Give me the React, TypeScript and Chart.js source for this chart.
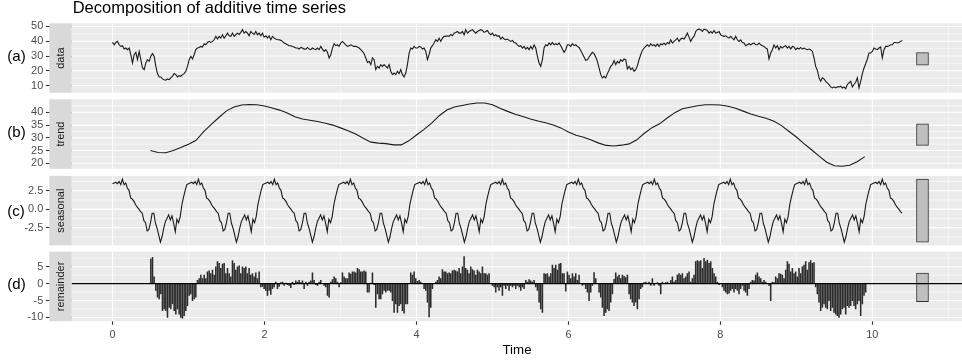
import React, { useEffect, useRef } from "react";
import { Chart, registerables } from "chart.js";

Chart.register(...registerables);

// ---------------- data ----------------
const samplesPerUnit = 45.6; // observations per time unit
const dataValues = [
  39.2, 37.6, 39.2, 39.9, 37.6, 36.5, 37.0, 34.7, 35.4, 34.3,
  35.4, 30.9, 25.3, 30.9, 32.5, 27.5, 33.1, 27.5, 21.9, 20.8,
  25.3, 27.5, 26.4, 29.8, 31.6, 29.8, 23.0, 18.1, 15.8, 15.8,
  14.5, 14.0, 13.6, 14.5, 14.0, 15.2, 16.3, 18.1, 17.4, 15.8,
  16.7, 16.3, 17.4, 18.1, 19.7, 23.0, 27.5, 29.8, 28.0, 30.9,
  34.3, 35.4, 35.8, 36.5, 36.1, 38.3, 37.6, 39.2, 39.9, 39.2,
  39.9, 41.0, 43.3, 41.5, 43.3, 42.1, 44.4, 42.1, 43.7, 45.5,
  43.7, 43.3, 45.5, 43.3, 44.4, 45.5, 44.6, 46.0, 47.8, 45.5,
  46.6, 45.5, 43.7, 46.6, 45.5, 44.6, 46.6, 44.4, 45.5, 43.7,
  45.5, 42.8, 43.7, 42.1, 43.7, 41.0, 43.3, 42.1, 41.5, 41.0,
  41.0, 40.6, 39.9, 38.8, 38.3, 37.6, 37.0, 37.0, 36.5, 36.1,
  35.4, 35.4, 34.7, 35.8, 35.4, 34.7, 34.7, 35.8, 34.7, 34.3,
  35.4, 34.7, 34.3, 35.4, 34.3, 36.5, 34.7, 33.1, 34.3, 32.5,
  28.7, 30.9, 35.4, 38.3, 37.0, 37.6, 36.5, 38.8, 39.9, 38.8,
  37.6, 36.5, 37.0, 37.6, 37.0, 36.5, 36.5, 36.1, 35.4, 34.3,
  33.1, 31.6, 28.7, 25.7, 26.4, 24.2, 28.7, 27.5, 20.8, 23.0,
  21.9, 24.2, 23.0, 24.2, 23.0, 21.9, 24.2, 19.7, 17.4, 18.5,
  17.4, 19.7, 18.1, 20.8, 17.4, 15.8, 18.5, 24.2, 32.0, 35.4,
  34.7, 36.5, 35.4, 35.4, 36.5, 36.1, 34.7, 35.4, 33.1, 27.5,
  30.9, 35.4, 37.0, 38.8, 41.0, 39.9, 42.1, 39.9, 42.1, 43.3,
  43.3, 43.7, 43.3, 44.6, 43.7, 45.5, 46.0, 46.6, 45.5, 45.5,
  46.6, 44.4, 47.8, 45.5, 46.6, 47.3, 47.8, 46.6, 45.5, 46.6,
  47.3,
  47.8, 47.3, 46.0, 46.6, 47.3, 45.5, 44.4, 45.5, 43.7, 44.4,
  43.3, 43.7, 41.5, 42.8, 41.5, 41.0, 41.5, 40.6, 39.9, 40.6,
  39.2, 38.8, 37.6, 36.5, 37.0, 35.4, 36.5, 34.7, 35.8, 34.3,
  36.5, 34.7, 37.6, 35.4, 29.8, 25.3, 23.0, 27.5, 35.4, 37.6,
  37.0, 38.8, 37.6, 39.2, 37.6, 38.3, 37.6, 38.8, 37.0, 34.7,
  32.5, 34.3, 37.6, 37.6, 36.5, 38.3, 37.0, 37.6, 36.5, 35.8,
  33.8, 31.6, 29.3, 27.1, 27.5, 29.3, 30.9, 32.5, 31.6, 29.3,
  26.4, 21.9, 17.4, 15.2, 16.3, 15.2, 18.1, 20.4, 23.0, 24.2,
  26.9, 24.2, 26.4, 25.3, 27.5, 26.4, 28.0, 27.5, 21.2, 23.0,
  20.8, 21.9, 19.7, 20.8, 23.4, 27.5, 30.9, 33.8, 35.4, 36.5,
  37.6, 36.5, 38.3, 37.0, 37.6, 36.5, 38.1, 36.5, 38.3, 37.6,
  38.8, 37.6, 39.2, 38.3, 41.0, 38.8, 39.9, 41.0, 42.1, 39.9,
  41.5, 42.1, 41.5, 43.3, 45.5, 42.8, 39.9, 42.1, 43.3, 46.6,
  47.8, 48.2, 47.8, 46.6, 48.2, 47.8, 47.3, 45.5, 46.6, 45.5,
  47.3, 45.5, 46.0, 46.6, 44.4, 43.7, 43.3, 43.7, 42.8, 42.1,
  43.3, 42.1, 41.0, 43.3, 41.0, 39.9, 41.0, 39.2, 38.8, 37.0,
  37.6, 38.3, 37.6, 38.3, 38.8, 37.6, 37.6, 38.8, 37.6, 37.0,
  36.5, 35.4, 34.7, 28.0, 32.0, 34.3, 37.6, 35.4, 37.0, 34.3,
  36.5, 35.4, 36.5, 37.0, 35.4, 36.5, 34.7, 36.5, 36.1, 34.3,
  35.4, 34.7, 35.8, 34.7, 35.4, 34.7, 34.3, 34.7, 34.3, 33.1,
  28.7, 23.0, 20.4, 15.2, 12.9, 15.2, 14.5, 12.9, 11.8, 10.7,
  9.1, 8.4, 9.1, 8.4, 9.1, 9.1, 9.6, 8.4, 9.1, 7.8,
  10.7, 11.8, 12.9, 9.1, 10.7, 12.2, 15.2, 8.4, 12.9, 18.1,
  21.9, 24.8, 28.0, 32.0, 32.0, 33.1, 35.4, 34.7, 34.3, 35.4,
  36.1, 28.7, 34.3, 36.5, 36.5, 37.0, 37.6, 37.6, 39.2, 39.2,
  38.8, 39.2, 39.9, 40.6,
];

const trendStart = 0.5;
const trendStep = 0.1;
const trendValues = [
  25.0, 24.2, 24.1, 25.0, 26.2, 27.5, 29.0, 32.4, 35.3, 38.0,
  40.6, 42.1, 42.9, 43.1, 43.0, 42.5, 41.7, 40.9, 39.8, 38.3,
  37.4, 36.9, 36.4, 35.7, 35.0, 33.9, 32.8, 31.5, 29.8, 28.3,
  27.9, 27.7, 27.2, 27.2, 28.8, 31.1, 33.3, 35.8, 38.7, 40.9,
  42.1, 42.7, 43.3, 43.7, 43.7, 43.0, 41.6, 40.4, 39.3, 38.4,
  37.4, 36.6, 35.9, 35.0, 33.9, 32.3, 31.0, 30.2, 29.1, 27.9,
  27.0, 26.8, 27.1, 27.6, 29.2, 31.8, 34.0, 35.5, 37.8, 39.9,
  41.4, 42.0, 42.6, 43.0, 43.0, 42.9, 42.4, 41.6, 40.5, 39.4,
  38.5, 37.7, 36.6, 34.9, 32.6, 30.3, 27.7, 25.3, 22.8, 20.4,
  19.0, 18.8, 19.2, 20.6, 22.6,
];

const seasonalPerPeriod = 46;
const seasonalLength = 479;
const seasonalFigure = [
  3.45, 3.55, 3.64, 3.45, 3.73, 3.32, 4.07, 3.32, 3.55, 2.86,
  2.55, 1.50, 1.36, 1.05, 0.60, 0.27, 0.00, -0.32, -0.55, -1.55,
  -1.82, -2.95, -2.73, -1.82, -0.55, -0.55, -1.90, -2.60, -3.50, -4.45,
  -3.73, -2.60, -1.68, -1.23, -0.77, -1.45, -0.90, -1.90, -3.05, -1.36,
  -1.82, -1.00, 0.60, 1.64, 2.55, 3.32,
];

const remainderStartIndex = 23;
const remainderValues = [
  7.3, 7.8, 2.0, -2.0, -4.0, -4.5, -3.0, -8.0, -7.5, -8.0,
  -10.0, -7.0, -7.5, -6.0, -8.0, -9.0, -7.5, -9.0, -10.0, -10.2,
  -9.5, -8.0, -6.5, -3.5, -3.0, -5.0, -4.5, -4.0, 1.0, 1.5,
  2.5, 1.5, 2.5, 1.5, 3.5, 3.8, 3.0, 4.0, 2.5, 5.0,
  6.5, 6.0, 4.5, 5.8, 6.0, 3.0, 4.5, 3.0, 2.0, 6.8,
  6.0, 4.0, 5.0, 5.3, 3.0, 5.0, 4.5, 5.0, 3.0, 4.5,
  2.5, 3.0, 2.0, 3.2, 1.5, 3.5, -1.0, -0.8, -1.5, -2.0,
  -3.5, -2.0, -3.2, -1.5, -1.0, 0.5, -1.5, -0.8, 0.3, 0.5,
  -0.5, 0.2, -0.3, -0.5, -1.2, 0.5, -0.3, 0.8, 0.5, 1.0,
  0.3, 0.8, -1.5, 0.5, -0.5, 0.5, 0.8, 3.2, 1.0, -0.3,
  -0.5, 0.5, 1.0, 0.0, -0.5, -1.0, -3.5, -4.0, 0.5, 1.2,
  2.0, 1.5, 0.5, -1.0, 0.3, 3.2, 2.0, 1.5, 1.5, 3.2,
  2.8, 3.5, 3.5, 3.2, 4.5, 4.2, 3.5, 3.5, 3.8, 3.5,
  -2.5, -2.5, 0.2, 3.2, -0.3, -7.0, -3.0, -4.5, -4.5, -3.0,
  -2.0, -2.5, -2.0, -2.0, -2.5, -5.0, -8.5, -6.0, -8.5, -6.5,
  -6.0, -8.0, -8.7, -6.0, -6.0, 0.0, 3.2, 2.5, 3.5, 1.5,
  0.7, 1.0, 0.5, 0.0, -1.5, -2.0, -5.5, -9.8, -7.0, -1.5,
  0.0, 0.5, 1.0, 2.0, 1.5, 4.2, 3.5, 3.5, 3.0, 3.2,
  3.0, 3.8, 4.0, 3.8, 3.5, 4.5, 3.0, 5.0, 8.0, 4.5,
  4.0, 3.0, 5.0, 4.2, 3.8, 2.5, 4.0, 3.5,
  3.0, 5.0, 3.0, 3.0, 2.5, 3.0, 0.0, -0.5, -1.0, -2.5,
  -1.0, -2.0, -1.0, -3.5, -0.5, -1.5, -0.5, -2.0, -0.5, -1.0,
  -0.5, -1.5, -0.5, -1.0, -2.0, -1.0, -1.5, 1.0, 0.5, 1.2,
  0.8, 0.5, 1.0, -1.0, -2.0, -5.5, -7.5, -8.5, 3.0, 2.8,
  3.0, 2.0, 3.0, 5.5, 4.5, 5.5, 4.0, 5.8, 6.0, 3.0,
  3.0, -2.2, 3.5, 2.5, 1.5, 3.0, 2.0, 3.0, 1.0, 2.5,
  0.0, -0.5, -0.2, -1.5, -2.5, -5.0, -2.5, -0.5, 3.3, 1.5,
  0.0, -2.5, -4.0, -7.0, -9.5, -8.5, -7.5, -8.0, -5.5, -3.0,
  1.3, 3.2, 2.0, 2.5, 1.5, 2.5, 2.2, 1.8, 2.5, -3.0,
  -4.5, -5.5, -6.5, -5.5, -7.5, -4.5, -1.5, -1.0, 0.3, 0.5,
  0.2, 0.5, -0.5, 1.5, -0.5, 0.0, 0.3, -0.5, -3.0, 0.5,
  0.0, 0.3, 0.5, 0.0, 1.0, 2.0, 0.5, 1.0, 2.5, 3.0,
  2.5, 3.0, 1.5, 2.0, 3.0, 3.5, 0.5, 1.5, 2.5, 6.5,
  6.8, 6.5, 6.8, 4.5, 7.5, 6.5, 7.0, 6.0, 6.5, 4.5,
  3.0, 2.0, 0.5, -0.3, 0.0, -1.0, -2.0, -2.5, -3.0, -2.8,
  -2.0, -1.5, -2.5, -1.5, -2.0, -3.0, -1.5, -0.5, -2.0, -2.5,
  -3.5, -1.5, 0.5, 1.0, 0.8, 2.5, 3.2, 2.0, 1.5, 0.5,
  1.0, 0.5, 0.0, -0.5, -5.0, 0.5, 0.3, 2.0, 1.5, 3.0,
  2.8, 2.5, 1.5, 4.0, 6.5, 5.8, 3.5, 4.5, 3.0, 3.5,
  2.0, 4.5, 3.0, 5.0, 5.5, 6.5, 4.0, 6.2, 6.8, 6.0,
  6.2, -1.0, -3.0, -5.5, -8.0, -7.0, -6.0, -7.0, -7.5, -5.0,
  -8.0, -7.0, -8.5, -9.0, -9.5, -10.0, -9.0, -7.5, -7.0, -9.0,
  -6.5, -7.0, -6.5, -5.0, -6.5, -7.5, -6.0, -5.0, -9.5, -6.0,
  -3.5, -2.5,
];

// axes / labels
const xMajorTicks = [0, 2, 4, 6, 8, 10];
const xMinorTicks = [1, 3, 5, 7, 9, 11];
const dataTicks = [10, 20, 30, 40, 50];
const dataMinor = [15, 25, 35, 45];
const trendTicks = [20, 25, 30, 35, 40];
const trendMinor = [22.5, 27.5, 32.5, 37.5, 42.5];
const seasonalTicks = [-2.5, 0, 2.5];
const seasonalMinor = [-3.75, -1.25, 1.25, 3.75];
const remainderTicks = [-10, -5, 0, 5];
const remainderMinor = [-7.5, -2.5, 2.5, 7.5];
const stripLabels = ["data", "trend", "seasonal", "remainder"];
const panelTags = ["(a)", "(b)", "(c)", "(d)"];
const chartTitle = "Decomposition of additive time series";
const xTitle = "Time";
const rangeBarX = 10.66;

// ---------------- layout ----------------
const PAGE_W = 962;
const PAGE_H = 362;
const FONT = '"Liberation Sans", Arial, Helvetica, sans-serif';
const PLOT_LEFT = 71.7;
const STRIP_LEFT = 49.3;
const TICK_OUTER = 45.9;
const PANEL_TOPS = [23.3, 99.3, 175.9, 251.7];
const PANEL_H = 69.5;
const TAG_Y = [57.7, 133.5, 212.5, 285.3];
const X_MIN = -0.537;
const X_MAX = 11.18;

const dataPoints = dataValues.map((v, i) => ({ x: i / samplesPerUnit, y: v }));
const trendPoints = trendValues.map((v, i) => ({ x: trendStart + i * trendStep, y: v }));
const seasonalPoints = Array.from({ length: seasonalLength }, (_, i) => ({
  x: i / seasonalPerPeriod,
  y: seasonalFigure[i % seasonalPerPeriod],
}));
const remainderPoints = remainderValues.map((v, i) => ({
  x: (remainderStartIndex + i) / samplesPerUnit,
  y: v,
}));

const seasonalHalf = (Math.max(...seasonalFigure) - Math.min(...seasonalFigure)) / 2;
const mid = (arr: number[]) => (Math.max(...arr) + Math.min(...arr)) / 2;

type PanelDef = {
  yMin: number;
  yMax: number;
  major: number[];
  minor: number[];
  fmt: (v: number) => string;
  points: { x: number; y: number }[];
  bars: boolean;
  center: number;
};

const PANELS: PanelDef[] = [
  { yMin: 5.1, yMax: 52.15, major: dataTicks, minor: dataMinor, fmt: (v) => String(v), points: dataPoints, bars: false, center: mid(dataValues) },
  { yMin: 17.8, yMax: 45.15, major: trendTicks, minor: trendMinor, fmt: (v) => String(v), points: trendPoints, bars: false, center: mid(trendValues) },
  { yMin: -4.9, yMax: 4.5, major: seasonalTicks, minor: seasonalMinor, fmt: (v) => v.toFixed(1), points: seasonalPoints, bars: false, center: mid(seasonalFigure) },
  { yMin: -11.1, yMax: 9.45, major: remainderTicks, minor: remainderMinor, fmt: (v) => String(v), points: remainderPoints, bars: true, center: mid(remainderValues) },
];

function makeConfig(p: PanelDef, i: number): any {
  const top = PANEL_TOPS[i];
  const bottom = top + PANEL_H;
  const last = i === PANELS.length - 1;
  const tickFont = { family: FONT, size: 10.9 };

  const panelPlugin = {
    id: "panelDeco" + i,
    beforeDatasetsDraw(chart: any) {
      const { ctx, chartArea: a, scales } = chart;
      const xs = scales.x;
      const ys = scales.y;
      ctx.save();
      ctx.fillStyle = "#EBEBEB";
      ctx.fillRect(a.left, a.top, a.right - a.left, a.bottom - a.top);
      ctx.strokeStyle = "#FFFFFF";
      const h = (v: number, w: number) => {
        const y = ys.getPixelForValue(v);
        if (y < a.top || y > a.bottom) return;
        ctx.lineWidth = w;
        ctx.beginPath();
        ctx.moveTo(a.left, y);
        ctx.lineTo(a.right, y);
        ctx.stroke();
      };
      const vl = (v: number, w: number) => {
        const x = xs.getPixelForValue(v);
        if (x < a.left || x > a.right) return;
        ctx.lineWidth = w;
        ctx.beginPath();
        ctx.moveTo(x, a.top);
        ctx.lineTo(x, a.bottom);
        ctx.stroke();
      };
      p.minor.forEach((v) => h(v, 0.55));
      xMinorTicks.forEach((v) => vl(v, 0.55));
      p.major.forEach((v) => h(v, 1.1));
      xMajorTicks.forEach((v) => vl(v, 1.1));
      ctx.restore();
    },
    afterDatasetsDraw(chart: any) {
      if (!p.bars) return;
      const { ctx, chartArea: a, scales } = chart;
      const y = scales.y.getPixelForValue(0);
      ctx.save();
      ctx.strokeStyle = "#000000";
      ctx.lineWidth = 1.1;
      ctx.beginPath();
      ctx.moveTo(a.left, y);
      ctx.lineTo(a.right, y);
      ctx.stroke();
      ctx.restore();
    },
    afterDraw(chart: any) {
      const { ctx, chartArea: a } = chart;
      ctx.save();
      ctx.fillStyle = "#D9D9D9";
      ctx.fillRect(STRIP_LEFT, a.top, a.left - STRIP_LEFT, a.bottom - a.top);
      ctx.translate((STRIP_LEFT + a.left) / 2, (a.top + a.bottom) / 2);
      ctx.rotate(-Math.PI / 2);
      ctx.fillStyle = "#1A1A1A";
      ctx.font = `11px ${FONT}`;
      ctx.textAlign = "center";
      ctx.textBaseline = "middle";
      ctx.fillText(stripLabels[i], 0, 0);
      ctx.restore();
    },
  };

  const seriesDataset = p.bars
    ? {
        type: "bar",
        data: p.points,
        backgroundColor: "#2B2B2B",
        borderWidth: 0,
        barThickness: 0.9,
        grouped: false,
        order: 1,
      }
    : {
        type: "line",
        data: p.points,
        borderColor: "#1A1A1A",
        borderWidth: 1.1,
        pointRadius: 0,
        fill: false,
        tension: 0,
        order: 1,
      };

  const rangeDataset = {
    type: "bar",
    data: [{ x: rangeBarX, y: [p.center - seasonalHalf, p.center + seasonalHalf] }],
    backgroundColor: "#BFBFBF",
    borderColor: "#333333",
    borderWidth: 1,
    borderSkipped: false,
    barThickness: 12,
    grouped: false,
    order: 2,
  };

  const xScale: any = {
    type: "linear",
    min: X_MIN,
    max: X_MAX,
    offset: false,
    display: last,
    afterBuildTicks: (s: any) => {
      s.ticks = xMajorTicks.map((v) => ({ value: v }));
    },
    grid: {
      display: true,
      offset: false,
      drawOnChartArea: false,
      drawTicks: true,
      tickLength: 3.6,
      tickColor: "#333333",
      tickWidth: 1.1,
    },
    border: { display: false },
    ticks: {
      color: "#4D4D4D",
      font: tickFont,
      padding: 4,
      autoSkip: false,
      maxRotation: 0,
      callback: (v: number) => String(v),
    },
  };
  if (last) {
    xScale.afterFit = (s: any) => {
      s.height = PAGE_H - bottom;
    };
  }

  return {
    type: "line",
    data: { datasets: [seriesDataset, rangeDataset] },
    options: {
      animation: false,
      responsive: false,
      maintainAspectRatio: false,
      devicePixelRatio: 1,
      events: [],
      layout: {
        padding: { top, bottom: last ? 0 : PAGE_H - bottom, left: 0, right: 0 },
      },
      plugins: {
        legend: { display: false },
        tooltip: { enabled: false },
        title: { display: false },
      },
      scales: {
        x: xScale,
        y: {
          type: "linear",
          position: "left",
          min: p.yMin,
          max: p.yMax,
          afterBuildTicks: (s: any) => {
            s.ticks = p.major.map((v) => ({ value: v }));
          },
          afterFit: (s: any) => {
            s.width = PLOT_LEFT;
          },
          grid: {
            display: true,
            offset: false,
            drawOnChartArea: false,
            drawTicks: true,
            tickLength: PLOT_LEFT - TICK_OUTER,
            tickColor: "#333333",
            tickWidth: 1.1,
          },
          border: { display: false },
          ticks: {
            color: "#4D4D4D",
            font: tickFont,
            padding: 2.7,
            autoSkip: false,
            callback: (v: number) => p.fmt(v),
          },
        },
      },
    },
    plugins: [panelPlugin],
  };
}

export default function App() {
  const r0 = useRef<HTMLCanvasElement>(null);
  const r1 = useRef<HTMLCanvasElement>(null);
  const r2 = useRef<HTMLCanvasElement>(null);
  const r3 = useRef<HTMLCanvasElement>(null);
  const refs = [r0, r1, r2, r3];

  useEffect(() => {
    const charts = PANELS.map((p, i) => new Chart(refs[i].current as HTMLCanvasElement, makeConfig(p, i)));
    return () => charts.forEach((c) => c.destroy());
  }, []);

  return (
    <div
      style={{
        position: "absolute",
        left: 0,
        top: 0,
        width: PAGE_W,
        height: PAGE_H,
        background: "#FFFFFF",
        overflow: "hidden",
        fontFamily: FONT,
      }}
    >
      {refs.map((r, i) => (
        <canvas
          key={i}
          ref={r}
          width={PAGE_W}
          height={PAGE_H}
          style={{ position: "absolute", left: 0, top: 0, width: PAGE_W, height: PAGE_H }}
        />
      ))}
      <div
        style={{
          position: "absolute",
          left: 72.7,
          top: -1,
          fontSize: 16.5,
          lineHeight: "16px",
          whiteSpace: "nowrap",
          color: "#000",
        }}
      >
        {chartTitle}
      </div>
      {panelTags.map((t, i) => (
        <div
          key={t}
          style={{
            position: "absolute",
            left: 7.3,
            top: TAG_Y[i] - 11.3,
            fontSize: 15,
            lineHeight: "20px",
            whiteSpace: "nowrap",
            color: "#000",
          }}
        >
          {t}
        </div>
      ))}
      <div
        style={{
          position: "absolute",
          left: 417,
          width: 200,
          top: 341.5,
          textAlign: "center",
          fontSize: 13.3,
          lineHeight: "16px",
          color: "#000",
        }}
      >
        {xTitle}
      </div>
    </div>
  );
}
